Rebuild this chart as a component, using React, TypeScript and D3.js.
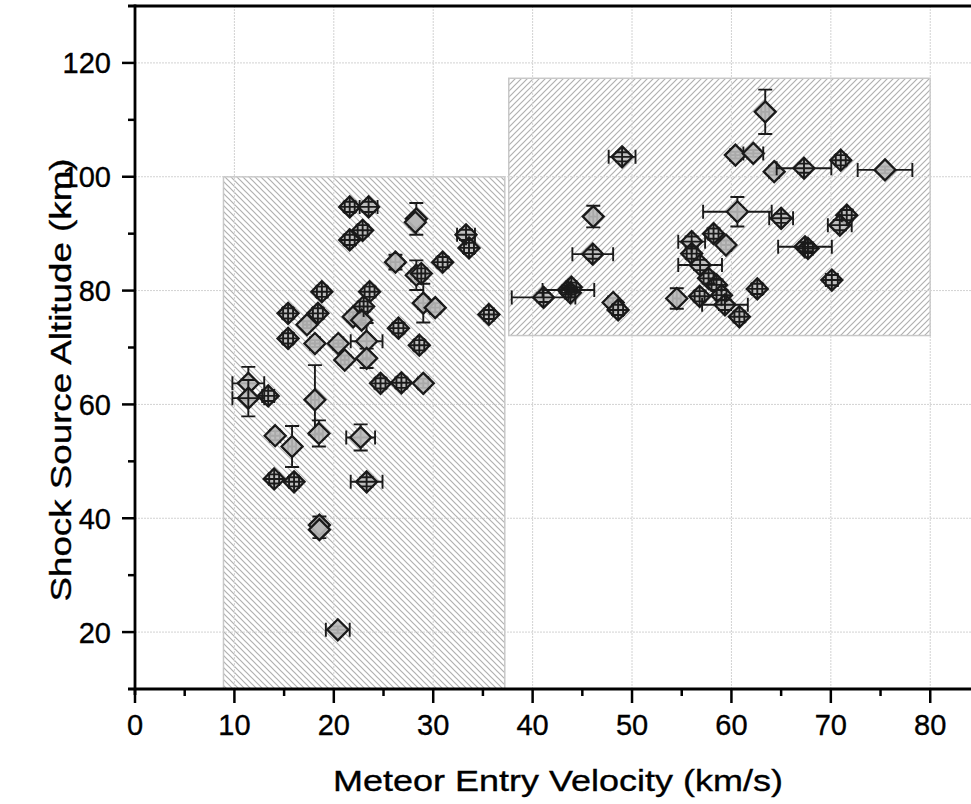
import React from "react";
import * as d3 from "d3";

// ---- data ----
const velocity = [
  21.6, 23.5, 22.9, 21.6, 28.3, 28.2, 33.3, 33.6, 26.2, 30.95, 28.3, 28.8, 29.0, 30.2, 35.6,
  18.8, 23.6, 15.4, 18.4, 17.3, 21.95, 23.0, 22.8, 26.5, 15.4, 18.1, 20.45, 23.3, 23.3, 21.1,
  28.6, 24.7, 26.8, 29.0, 18.1, 11.4, 11.4, 13.4, 14.1, 15.8, 18.5, 22.7, 14.0, 16.0, 23.3,
  18.55, 18.55, 20.4,
  49.0, 46.1, 46.05, 41.1, 43.6, 43.9, 43.8, 48.1, 48.6, 54.5, 56.8, 56.0, 56.0, 56.85, 58.2,
  59.45, 57.7, 58.5, 59.0, 59.35, 60.8, 62.6, 60.6, 65.0, 67.4, 67.7, 71.6, 70.9, 70.1, 63.4,
  60.4, 62.2, 64.3, 67.3, 71.0, 75.45,
];
const altitude = [
  94.7, 94.7, 90.6, 88.9, 92.6, 92.0, 89.8, 87.5, 85.0, 85.0, 82.7, 83.0, 77.8, 77.0, 75.8,
  79.8, 79.8, 76.0, 76.0, 74.0, 75.4, 77.2, 74.8, 73.4, 71.6, 70.7, 70.7, 71.1, 68.1, 67.8,
  70.4, 63.7, 63.8, 63.7, 60.8, 63.7, 61.1, 61.5, 54.5, 52.6, 54.9, 54.2, 46.9, 46.4, 46.4,
  38.8, 38.0, 20.4,
  103.5, 93.0, 86.4, 78.8, 80.1, 80.6, 79.6, 77.9, 76.6, 78.6, 79.0, 88.6, 86.5, 84.5, 90.0,
  88.0, 82.15, 81.0, 79.2, 77.5, 75.4, 80.3, 93.85, 92.7, 87.7, 87.4, 93.25, 91.5, 81.85, 111.4,
  103.8, 104.1, 100.9, 101.5, 102.9, 101.2,
];
const velocityError = [
  0.5, 0.9, 0.5, 0.5, 0.4, 0.4, 0.9, 0.5, 0.5, 0.5, 0.5, 0.4, 0.5, 0.5, 0.5,
  0.5, 0.5, 0.5, 0.5, 0.4, 0.4, 0.4, 0.4, 0.5, 0.5, 0.5, 0.5, 1.6, 0.4, 0.4,
  0.5, 0.5, 0.5, 0.5, 0.4, 1.6, 1.6, 0.6, 0.5, 0.4, 0.4, 1.45, 0.5, 0.5, 1.6,
  0.4, 0.4, 1.2,
  1.35, 0.4, 2.05, 3.2, 2.6, 0.5, 0.5, 0.5, 0.5, 0.4, 0.5, 1.35, 0.5, 2.2, 0.5,
  0.5, 0.5, 0.5, 0.5, 2.3, 0.5, 0.5, 3.45, 1.2, 2.7, 0.5, 0.5, 1.2, 0.6, 0.4,
  0.5, 1.0, 0.5, 2.75, 0.5, 2.75,
];
const altitudeError = [
  0.9, 0.9, 0.9, 0.9, 2.8, 0.8, 0.9, 0.9, 1.3, 0.9, 2.6, 0.9, 3.4, 0.8, 0.8,
  0.9, 0.9, 0.9, 0.9, 0.6, 0.8, 0.9, 0.8, 0.9, 0.9, 0.6, 0.6, 3.2, 1.7, 0.8,
  0.9, 0.9, 0.9, 0.8, 6.1, 2.9, 3.2, 0.9, 0.8, 3.6, 2.3, 2.3, 0.8, 0.8, 0.8,
  1.5, 1.5, 0.6,
  0.8, 1.9, 0.8, 0.8, 0.8, 0.8, 0.8, 0.8, 0.9, 1.8, 0.9, 0.9, 0.9, 0.9, 0.9,
  0.8, 0.9, 0.9, 0.9, 0.9, 0.9, 0.9, 2.6, 0.8, 0.8, 0.8, 0.9, 0.9, 0.9, 3.9,
  0.6, 0.6, 0.6, 0.8, 0.9, 0.6,
];
// 1 = error bars drawn over the marker (crossed diamonds), 0 = behind
const errorOnTop = [
  1, 1, 1, 1, 0, 0, 1, 1, 0, 1, 0, 1, 0, 0, 1,
  1, 1, 1, 1, 0, 0, 1, 0, 1, 1, 0, 0, 0, 0, 0,
  1, 1, 1, 0, 0, 0, 1, 1, 0, 0, 0, 0, 1, 1, 1,
  0, 0, 0,
  1, 0, 1, 1, 1, 1, 1, 0, 1, 0, 1, 1, 1, 1, 1,
  0, 1, 1, 1, 1, 1, 1, 0, 1, 1, 1, 1, 1, 1, 0,
  0, 0, 0, 1, 1, 0,
];

const regionVelMin = [8.9, 37.6];
const regionVelMax = [37.2, 80];
const regionAltMin = [10, 72.1];
const regionAltMax = [100, 117.3];
const regionHatch = ["back", "fwd"];

const xTicks = [0, 10, 20, 30, 40, 50, 60, 70, 80];
const xMinorTicks = [5, 15, 25, 35, 45, 55, 65, 75];
const yTicks = [20, 40, 60, 80, 100, 120];
const yMinorTicks = [30, 50, 70, 90, 110];

const xTitle = "Meteor Entry Velocity (km/s)";
const yTitle = "Shock Source Altitude (km)";

const W = 971;
const H = 804;
const left = 135;
const top = 6;
const bottom = 689;

export default function App() {
  const x = d3.scaleLinear().domain([0, 84.1]).range([left, W]);
  const y = d3.scaleLinear().domain([10, 130]).range([bottom, top]);
  const font = "'Liberation Sans', Arial, sans-serif";
  const r = 10.5;
  const cap = 7;
  const diamond = (cx: number, cy: number) =>
    `M${cx},${cy - r}L${cx + r},${cy}L${cx},${cy + r}L${cx - r},${cy}Z`;
  const idx = d3.range(velocity.length);

  const errBars = (i: number, through: boolean) => {
    const cx = x(velocity[i]);
    const cy = y(altitude[i]);
    const x0 = Math.min(x(velocity[i] - velocityError[i]), through ? cx - r : cx);
    const x1 = Math.max(x(velocity[i] + velocityError[i]), through ? cx + r : cx);
    const y0 = Math.max(y(altitude[i] - altitudeError[i]), through ? cy + r : cy);
    const y1 = Math.min(y(altitude[i] + altitudeError[i]), through ? cy - r : cy);
    const ex0 = x(velocity[i] - velocityError[i]);
    const ex1 = x(velocity[i] + velocityError[i]);
    const ey0 = y(altitude[i] - altitudeError[i]);
    const ey1 = y(altitude[i] + altitudeError[i]);
    const d =
      `M${x0},${cy}H${x1}M${ex0},${cy - cap}V${cy + cap}M${ex1},${cy - cap}V${cy + cap}` +
      `M${cx},${y0}V${y1}M${cx - cap},${ey0}H${cx + cap}M${cx - cap},${ey1}H${cx + cap}`;
    return <path key={"e" + i} d={d} stroke="#1a1a1a" strokeWidth={1.9} fill="none" />;
  };

  const t = 6;
  return (
    <svg
      width={W}
      height={H}
      style={{ position: "absolute", left: 0, top: 0, background: "#fff" }}
    >
      <defs>
        <pattern id="hatch-back" width={t} height={t} patternUnits="userSpaceOnUse">
          <path
            d={`M0,0L${t},${t}M${-1},${t - 1}L1,${t + 1}M${t - 1},-1L${t + 1},1`}
            stroke="#b0b0b0"
            strokeWidth={1.2}
          />
        </pattern>
        <pattern id="hatch-fwd" width={t} height={t} patternUnits="userSpaceOnUse">
          <path
            d={`M0,${t}L${t},0M-1,1L1,-1M${t - 1},${t + 1}L${t + 1},${t - 1}`}
            stroke="#b0b0b0"
            strokeWidth={1.2}
          />
        </pattern>
      </defs>

      {/* hatched regions */}
      {regionVelMin.map((v, i) => (
        <rect
          key={"reg" + i}
          x={x(v)}
          y={y(regionAltMax[i])}
          width={x(regionVelMax[i]) - x(v)}
          height={y(regionAltMin[i]) - y(regionAltMax[i])}
          fill={`url(#hatch-${regionHatch[i]})`}
          stroke="#c8c8c8"
          strokeWidth={1.5}
        />
      ))}

      {/* grid */}
      {xTicks.filter((v) => v > 0).map((v) => (
        <line key={"gx" + v} x1={x(v)} x2={x(v)} y1={top} y2={bottom} stroke="#d2d2d2" strokeWidth={1} strokeDasharray="2,1" />
      ))}
      {yTicks.map((v) => (
        <line key={"gy" + v} x1={left} x2={W} y1={y(v)} y2={y(v)} stroke="#d2d2d2" strokeWidth={1} strokeDasharray="2,1" />
      ))}

      {/* error bars behind markers */}
      {idx.filter((i) => !errorOnTop[i]).map((i) => errBars(i, false))}

      {/* markers */}
      {idx.map((i) => (
        <path
          key={"m" + i}
          d={diamond(x(velocity[i]), y(altitude[i]))}
          fill="#b9b9b9"
          fillOpacity={0.9}
          stroke="#1a1a1a"
          strokeWidth={2.3}
        />
      ))}

      {/* error bars over markers */}
      {idx.filter((i) => errorOnTop[i]).map((i) => errBars(i, true))}

      {/* axes */}
      <line x1={128} x2={W} y1={top} y2={top} stroke="#000" strokeWidth={2.8} />
      <line x1={128} x2={W} y1={bottom} y2={bottom} stroke="#000" strokeWidth={2.8} />
      <line x1={left} x2={left} y1={top - 1.4} y2={bottom + 6} stroke="#000" strokeWidth={2.8} />

      {xTicks.map((v) => (
        <g key={"xt" + v}>
          <line x1={x(v)} x2={x(v)} y1={bottom} y2={bottom + 14} stroke="#000" strokeWidth={2.5} />
          <text x={x(v)} y={735} textAnchor="middle" fontFamily={font} fontSize={29} fill="#000" stroke="#000" strokeWidth={0.35}>
            {v}
          </text>
        </g>
      ))}
      {xMinorTicks.map((v) => (
        <line key={"xm" + v} x1={x(v)} x2={x(v)} y1={bottom} y2={bottom + 7} stroke="#000" strokeWidth={2.5} />
      ))}
      {yTicks.map((v) => (
        <g key={"yt" + v}>
          <line x1={left - 13} x2={left} y1={y(v)} y2={y(v)} stroke="#000" strokeWidth={2.5} />
          <text x={111} y={y(v)} dy="0.36em" textAnchor="end" fontFamily={font} fontSize={29} fill="#000" stroke="#000" strokeWidth={0.35}>
            {v}
          </text>
        </g>
      ))}
      {yMinorTicks.map((v) => (
        <line key={"ym" + v} x1={left - 7} x2={left} y1={y(v)} y2={y(v)} stroke="#000" strokeWidth={2.5} />
      ))}

      {/* titles */}
      <text
        x={558}
        y={791}
        textAnchor="middle"
        fontFamily={font}
        fontSize={30}
        textLength={450}
        lengthAdjust="spacingAndGlyphs"
        fill="#000"
        stroke="#000"
        strokeWidth={0.35}
      >
        {xTitle}
      </text>
      <text
        transform="translate(71,380) rotate(-90)"
        x={0}
        y={0}
        textAnchor="middle"
        fontFamily={font}
        fontSize={30}
        textLength={443}
        lengthAdjust="spacingAndGlyphs"
        fill="#000"
        stroke="#000"
        strokeWidth={0.35}
      >
        {yTitle}
      </text>
    </svg>
  );
}
